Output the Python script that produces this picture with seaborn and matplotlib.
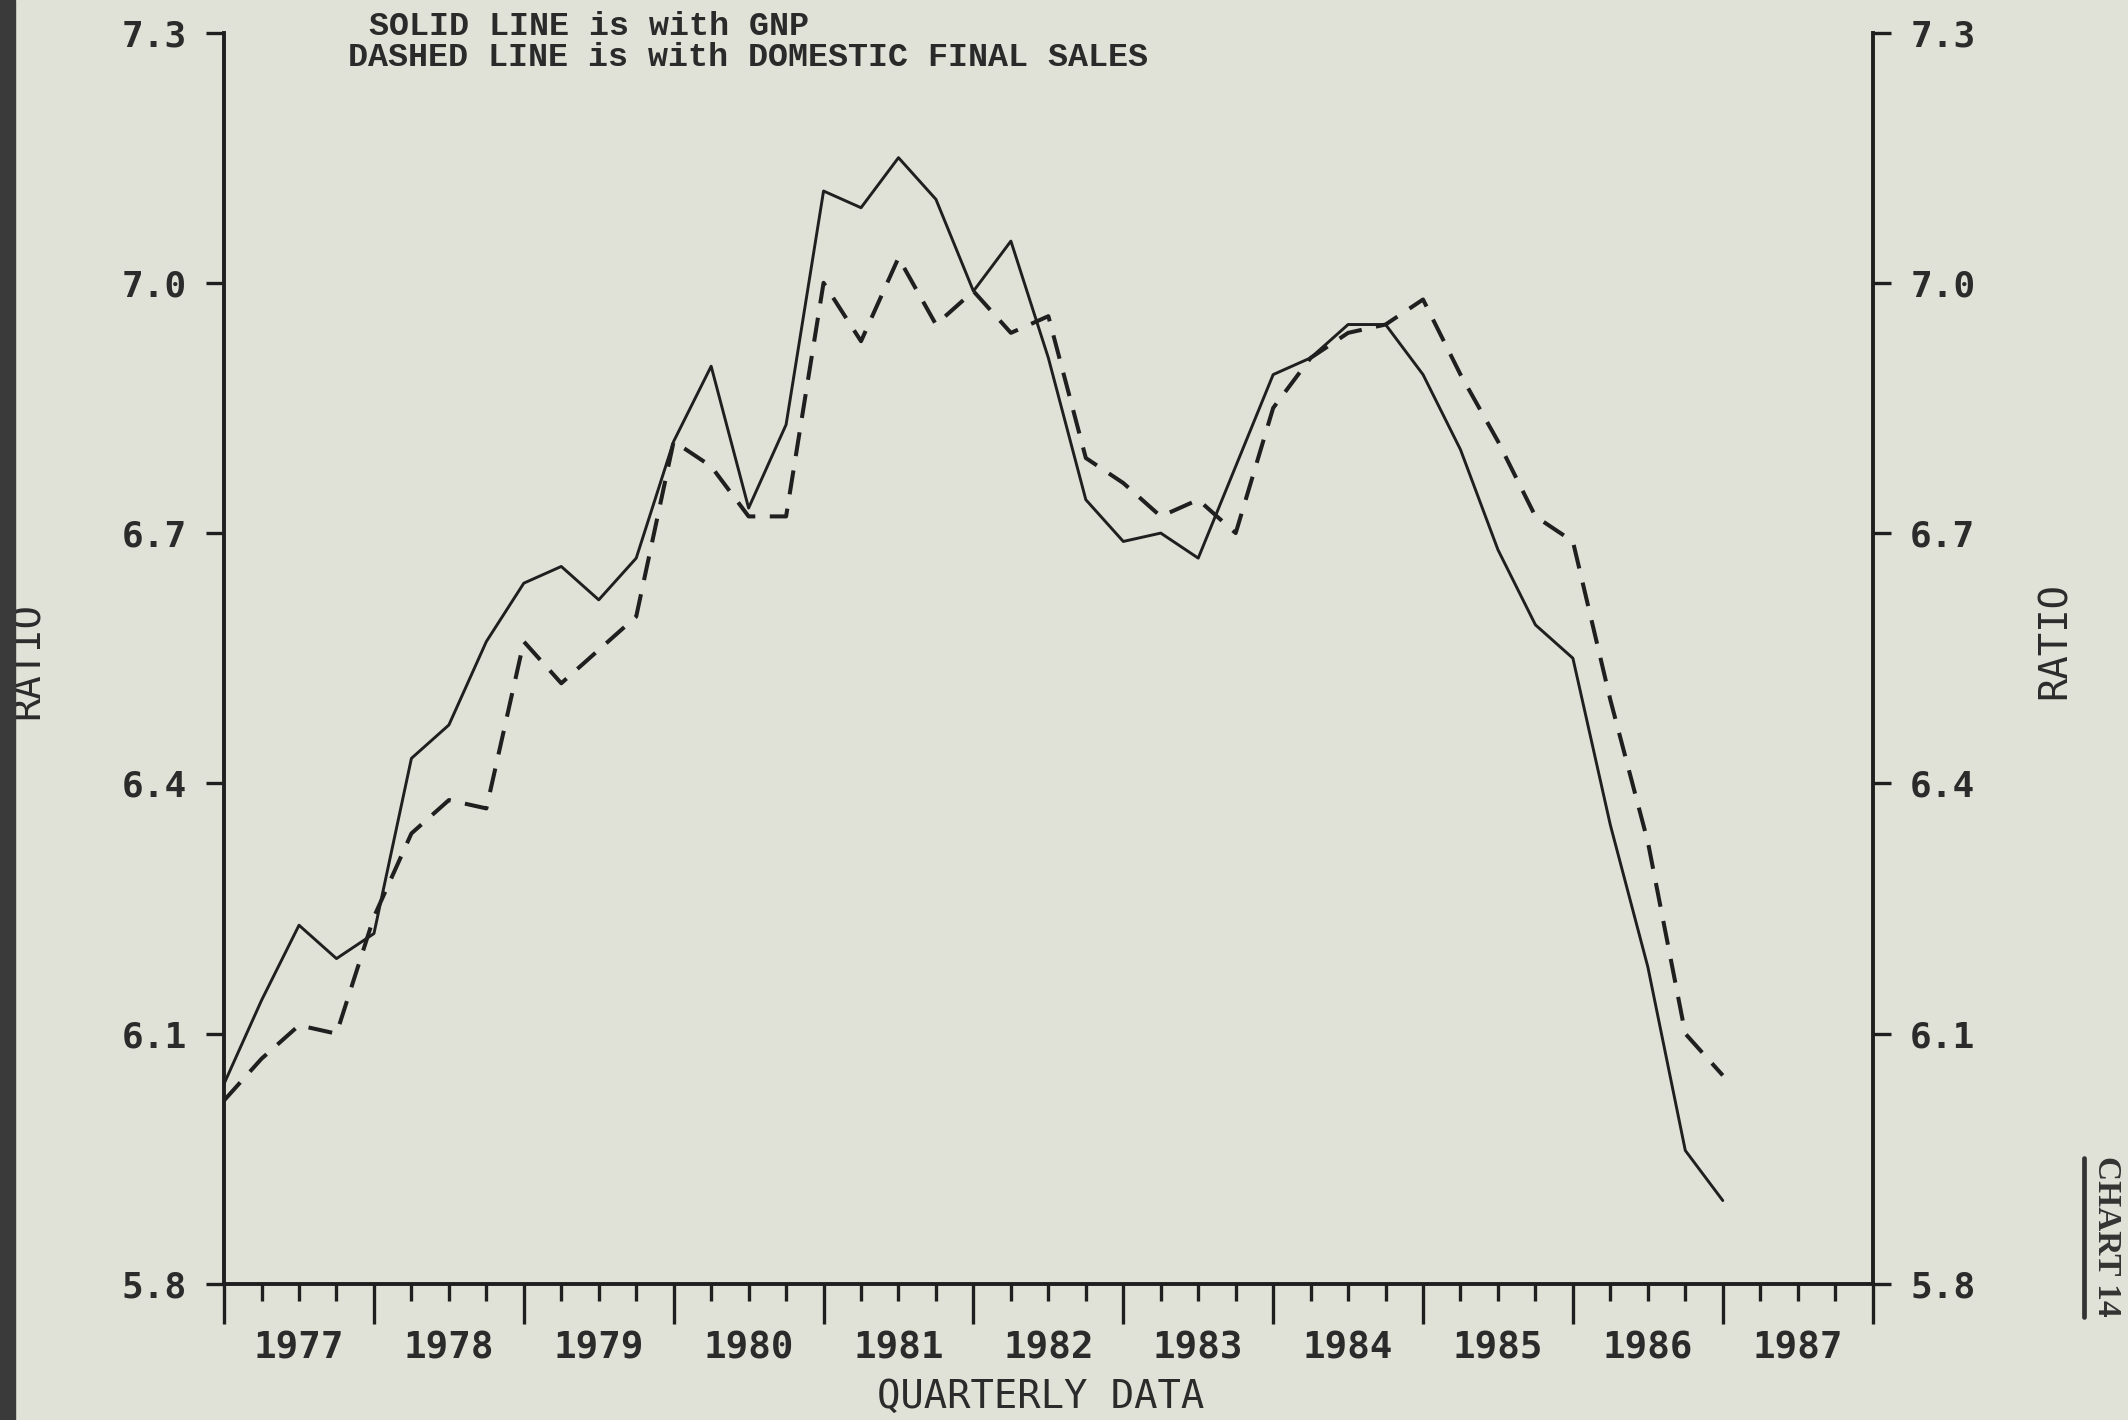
import matplotlib
matplotlib.use("Agg")
import matplotlib.pyplot as plt
from matplotlib.lines import Line2D
from matplotlib.patches import Rectangle
import seaborn as sns
import pandas as pd
import numpy as np

# quarterly observations, 1977Q1 .. 1987Q1
quarters = pd.period_range("1977Q1", "1987Q1", freq="Q")

# ratio using GNP (solid line)
gnp_ratio = [6.04, 6.14, 6.23, 6.19, 6.22, 6.43, 6.47, 6.57, 6.64, 6.66,
             6.62, 6.67, 6.81, 6.90, 6.73, 6.83, 7.11, 7.09, 7.15, 7.10,
             6.99, 7.05, 6.91, 6.74, 6.69, 6.70, 6.67, 6.78, 6.89, 6.91,
             6.95, 6.95, 6.89, 6.80, 6.68, 6.59, 6.55, 6.35, 6.18, 5.96,
             5.90]

# ratio using domestic final sales (dashed line)
dfs_ratio = [6.02, 6.07, 6.11, 6.10, 6.24, 6.34, 6.38, 6.37, 6.57, 6.52,
             6.56, 6.60, 6.81, 6.78, 6.72, 6.72, 7.00, 6.93, 7.03, 6.95,
             6.99, 6.94, 6.96, 6.79, 6.76, 6.72, 6.74, 6.70, 6.85, 6.91,
             6.94, 6.95, 6.98, 6.89, 6.81, 6.72, 6.69, 6.50, 6.33, 6.10,
             6.05]

years = list(range(1977, 1988))
y_ticks = [5.8, 6.1, 6.4, 6.7, 7.0, 7.3]

bg = "#e0e1d7"
ink = "#1f1f1f"
txt = "#2b2b2b"
plot_font = ["DejaVu Sans Mono"]
type_font = ["Liberation Mono"]

sns.set_style("ticks")
plt.rcParams["font.family"] = plot_font

df = pd.DataFrame({
    "t": quarters.year + (quarters.quarter - 1) / 4.0,
    "gnp": gnp_ratio,
    "dfs": dfs_ratio,
})

fig = plt.figure(figsize=(21.28, 14.2), dpi=100, facecolor=bg)
ax = fig.add_axes([0.1053, 0.0958, 0.880 - 0.1053, 0.9771 - 0.0958])
ax.set_facecolor(bg)

sns.lineplot(data=df, x="t", y="gnp", ax=ax, color=ink, linewidth=2.1)
sns.lineplot(data=df, x="t", y="dfs", ax=ax, color=ink, linewidth=2.9)
ax.lines[1].set_dashes((6, 3.6))

ax.set_xlim(1977, 1988)
ax.set_ylim(5.8, 7.3)
ax.set_xlabel("")
ax.set_ylabel("")

for side in ["left", "right", "bottom"]:
    ax.spines[side].set_visible(True)
    ax.spines[side].set_linewidth(2.8)
    ax.spines[side].set_color(ink)
ax.spines["top"].set_visible(False)

# y axis on both sides
ax.set_yticks(y_ticks)
ax.set_yticklabels([f"{v:.1f}" for v in y_ticks], fontweight="bold")
ax.tick_params(axis="y", left=True, right=True, labelleft=True, labelright=True,
               direction="out", length=13, width=2.4, color=ink,
               labelsize=26, labelcolor=txt, pad=14)

# x axis: long ticks at years, short ticks at quarters, year names centred
ax.set_xticks(years + [1988])
ax.set_xticklabels([])
qt = [y + q / 4 for y in years for q in (1, 2, 3)]
ax.set_xticks(qt, minor=True)
ax.tick_params(axis="x", which="major", direction="out", length=29, width=2.4, color=ink)
ax.tick_params(axis="x", which="minor", direction="out", length=12, width=2.4, color=ink)
for y in years:
    ax.text(y + 0.5, -0.0515, str(y), transform=ax.get_xaxis_transform(),
            ha="center", va="center", fontsize=27, color=txt, fontweight="bold")

fig.text(0.489, 0.0165, "QUARTERLY DATA", ha="center", va="center",
         fontsize=28, color=txt)
fig.text(0.0130, 0.535, "RATIO", rotation=90, ha="center", va="center",
         fontsize=28, color=txt)
fig.text(0.9657, 0.549, "RATIO", rotation=90, ha="center", va="center",
         fontsize=28, color=txt)

# key lines at the top
fig.text(0.1734, 0.9815, "SOLID LINE is with GNP", ha="left", va="center",
         fontsize=24, color="#2a2a2a", family=type_font, weight="bold")
fig.text(0.1635, 0.9595, "DASHED LINE is with DOMESTIC FINAL SALES", ha="left",
         va="center", fontsize=24, color="#2a2a2a", family=type_font, weight="bold")

# page label
fig.text(0.990, 0.1296, "CHART 14", rotation=270, ha="center", va="center",
         fontsize=24, color="#333333", family=["Liberation Serif"], weight="bold")
fig.add_artist(Line2D([0.9793, 0.9793], [0.0725, 0.1845], color="#333333",
                      linewidth=3.4, transform=fig.transFigure))

# dark scan edge on the left
fig.add_artist(Rectangle((0, 0), 15 / 2128, 1, transform=fig.transFigure,
                         color="#3a3a3a", zorder=5))

fig.savefig("out.png", dpi=100, facecolor=bg)
